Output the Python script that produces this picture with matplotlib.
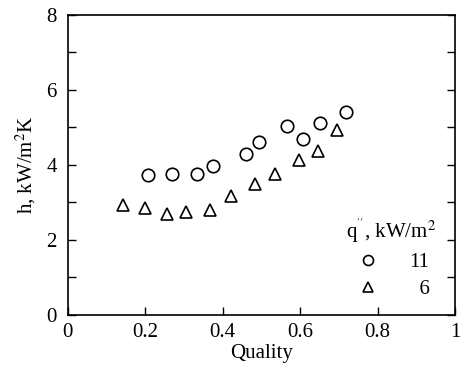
import matplotlib
matplotlib.use('Agg')
import matplotlib.pyplot as plt

plt.rcParams['font.family'] = ['Liberation Serif', 'DejaVu Serif']
plt.rcParams['mathtext.fontset'] = 'stix'

# q'' = 11 kW/m2
quality_11 = [0.208, 0.268, 0.334, 0.375, 0.461, 0.493, 0.565, 0.608, 0.650, 0.719]
h_11 = [3.73, 3.75, 3.75, 3.96, 4.30, 4.62, 5.05, 4.70, 5.13, 5.40]

# q'' = 6 kW/m2
quality_6 = [0.143, 0.200, 0.257, 0.306, 0.366, 0.420, 0.482, 0.534, 0.598, 0.645, 0.694]
h_6 = [2.93, 2.85, 2.68, 2.74, 2.81, 3.17, 3.48, 3.75, 4.13, 4.38, 4.92]

fig = plt.figure(figsize=(4.62, 3.71), dpi=100)
ax = fig.add_axes([0.147, 0.151, 0.838, 0.809])

ax.plot(quality_11, h_11, 'o', mfc='none', mec='black', ms=9, mew=1.2, label='11')
ax.plot(quality_6, h_6, '^', mfc='none', mec='black', ms=9, mew=1.2, label='\u20076')

ax.set_xlim(0, 1)
ax.set_ylim(0, 8)
ax.set_xticks([0, 0.2, 0.4, 0.6, 0.8, 1])
ax.set_xticklabels(['0', '0.2', '0.4', '0.6', '0.8', '1'])
ax.set_yticks([0, 2, 4, 6, 8])
ax.set_yticks([1, 3, 5, 7], minor=True)
ax.tick_params(which='both', direction='in', top=False, right=True, labelsize=15)
ax.tick_params(which='both', length=6, width=1.0)
ax.tick_params(axis='x', pad=6)
ax.tick_params(axis='y', pad=8)
for s in ax.spines.values():
    s.set_linewidth(1.2)

ax.set_xlabel('Quality', fontsize=15, labelpad=1)
ax.set_ylabel('h, kW/m$^2$K', fontsize=15, labelpad=6)

leg = ax.legend(title="q$^{''}$, kW/m$^2$", loc='center', bbox_to_anchor=(0.835, 0.19),
                frameon=False, fontsize=15, title_fontsize=15, handletextpad=1.2,
                markerscale=0.8, labelspacing=0.35, borderpad=0, handlelength=1.5)
fig.savefig('out.png', dpi=100)
